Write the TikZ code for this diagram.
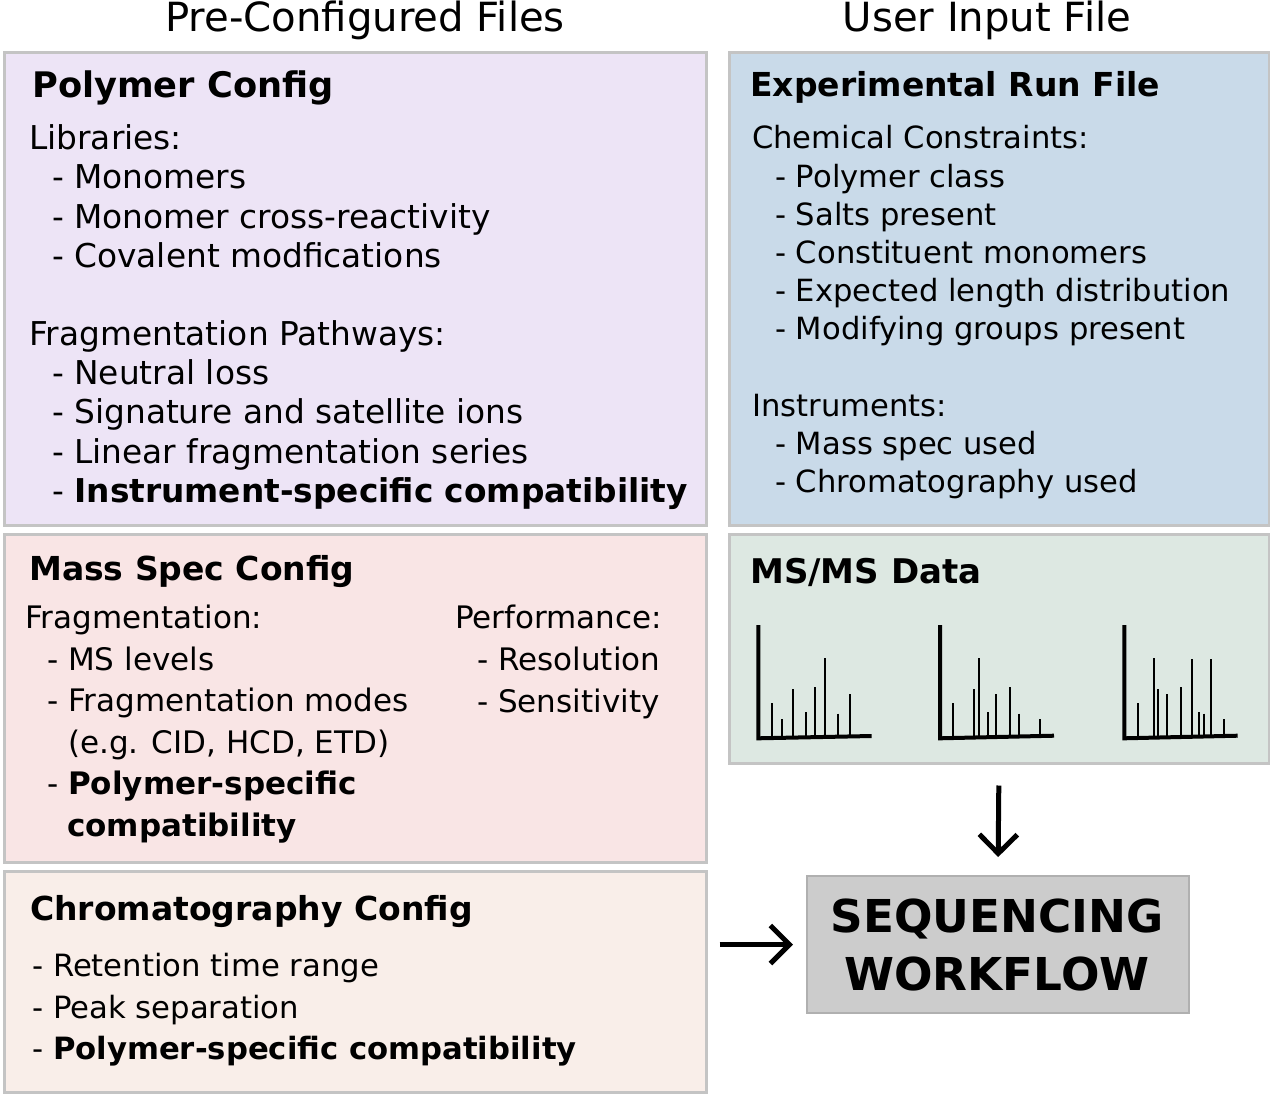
\documentclass[tikz,border=0pt]{standalone}
\usepackage{fontspec}
\setmainfont{DejaVu Sans}
\usetikzlibrary{arrows.meta}
\definecolor{polyc}{HTML}{EDE4F6}
\definecolor{expc}{HTML}{C9DAE9}
\definecolor{massc}{HTML}{F9E5E5}
\definecolor{msmsc}{HTML}{DDE8E2}
\definecolor{chromc}{HTML}{F9EEE9}
\definecolor{seqc}{HTML}{CCCCCC}
\definecolor{bordc}{HTML}{C4C4C4}
\definecolor{seqbord}{HTML}{B0B0B0}
\begin{document}
\begin{tikzpicture}[x=1pt,y=-1pt,
  panel/.style={draw=bordc, line width=3pt, inner sep=0pt, anchor=north west, rectangle},
  txt/.style={anchor=base west, inner sep=0pt, font=\fontsize{31}{37}\selectfont},
  ptxt/.style={anchor=base west, inner sep=0pt, font=\fontsize{32.8}{39}\selectfont},
  etxt/.style={anchor=base west, inner sep=0pt, font=\fontsize{30.6}{37}\selectfont},
  ctxt/.style={anchor=base west, inner sep=0pt, font=\fontsize{30.7}{37}\selectfont},
  ttl/.style={anchor=base west, inner sep=0pt, font=\fontsize{#1}{38}\selectfont\bfseries},
  hdr/.style={anchor=base, inner sep=0pt, font=\fontsize{40.2}{46}\selectfont},
  arr/.style={line width=5pt, -{Straight Barb[length=19pt,width=38pt,line width=5pt]}},
  ax/.style={line width=4pt, line join=miter},
  pk/.style={line width=2.2pt}]
\useasboundingbox (0,0) rectangle (1270,1101);
\fill[white] (0,0) rectangle (1270,1101);

% headings
\node[hdr] (h1) at (365,31) {Pre-Configured Files};
\node[hdr] (h2) at (987,31) {User Input File};

% panels
\node[panel, fill=polyc, minimum width=702pt, minimum height=473pt] (poly) at (2.5,50.5) {};
\node[panel, fill=expc, minimum width=540pt, minimum height=473pt] (exp) at (727.5,50.5) {};
\node[panel, fill=massc, minimum width=702pt, minimum height=328pt] (mass) at (2.5,532.5) {};
\node[panel, fill=msmsc, minimum width=540pt, minimum height=229pt] (msms) at (727.5,532.5) {};
\node[panel, fill=chromc, minimum width=702pt, minimum height=221pt] (chrom) at (2.5,869.5) {};
\node[draw=seqbord, line width=2pt, fill=seqc, inner sep=0pt, anchor=north west,
      minimum width=382pt, minimum height=137pt] (seq) at (806,875) {};

% Polymer Config
\node[ttl=35.2] (p0) at (32,97) {Polymer Config};
\node[ptxt] (p1) at (29,149) {Libraries:};
\node[ptxt] (p2) at (52,188) {- Monomers};
\node[ptxt] (p3) at (52,228) {- Monomer cross-reactivity};
\node[ptxt] (p4) at (52,267) {- Covalent modfications};
\node[ptxt] (p5) at (29,345) {Fragmentation Pathways:};
\node[ptxt] (p6) at (52,384) {- Neutral loss};
\node[ptxt] (p7) at (52,423) {- Signature and satellite ions};
\node[ptxt] (p8) at (52,463) {- Linear fragmentation series};
\node[ptxt] (p9) at (52,502) {- \textbf{Instrument-specific compatibility}};

% Experimental Run File
\node[ttl=33] (e0) at (750,96) {Experimental Run File};
\node[etxt] (e1) at (752,148) {Chemical Constraints:};
\node[etxt] (e2) at (775,187) {- Polymer class};
\node[etxt] (e3) at (775,225) {- Salts present};
\node[etxt] (e4) at (775,263) {- Constituent monomers};
\node[etxt] (e5) at (775,301) {- Expected length distribution};
\node[etxt] (e6) at (775,339) {- Modifying groups present};
\node[etxt] (e7) at (752,416) {Instruments:};
\node[etxt] (e8) at (775,454) {- Mass spec used};
\node[etxt] (e9) at (775,492) {- Chromatography used};

% Mass Spec Config
\node[ttl=33] (m0) at (29,580) {Mass Spec Config};
\node[txt] (m1) at (25,628) {Fragmentation:};
\node[txt] (m2) at (47,670) {- MS levels};
\node[txt] (m3) at (47,711) {- Fragmentation modes};
\node[txt] (m4) at (68,753) {(e.g. CID, HCD, ETD)};
\node[txt] (m5) at (47,794) {- \textbf{Polymer-specific}};
\node[txt] (m6) at (67,836) {\textbf{compatibility}};
\node[txt] (m7) at (455,628) {Performance:};
\node[txt] (m8) at (477,670) {- Resolution};
\node[txt] (m9) at (477,712) {- Sensitivity};

% MS/MS Data
\node[ttl=34] (d0) at (750,583) {MS/MS Data};

% spectra
\draw[ax] (758.3,625) -- (758.3,738.3) -- (871.7,736);
\foreach \px/\py in {772/703.3, 781.7/719, 792.7/689.3, 806/712, 815.3/687, 824.7/658.3, 838/713.7, 850.3/694.3}
  \draw[pk] (\px,\py) -- (\px,737.5);
\draw[ax] (940,625) -- (940,738.3) -- (1054,735.7);
\foreach \px/\py in {953.3/703.3, 974/689.3, 979.3/658.3, 988/712, 996/694.3, 1010.3/687, 1019.3/713.7, 1040/719}
  \draw[pk] (\px,\py) -- (\px,737);
\draw[ax] (1124.3,625) -- (1124.3,738.3) -- (1237.7,735.7);
\foreach \px/\py in {1137.7/703.3, 1154.3/658.3, 1158.3/689.3, 1166.7/694.3, 1181/687, 1191.7/659.3, 1199/712, 1203.7/713.7, 1211/659, 1224/719}
  \draw[pk] (\px,\py) -- (\px,737);

% Chromatography Config
\node[ttl=33] (c0) at (30,920) {Chromatography Config};
\node[ctxt] (c1) at (32,976) {- Retention time range};
\node[ctxt] (c2) at (32,1018) {- Peak separation};
\node[ctxt] (c3) at (32,1059) {- \textbf{Polymer-specific compatibility}};

% Sequencing workflow text
\node[anchor=base, inner sep=0pt, font=\fontsize{45.3}{52}\selectfont\bfseries] (s1) at (997,932) {SEQUENCING};
\node[anchor=base, inner sep=0pt, font=\fontsize{45.3}{52}\selectfont\bfseries] (s2) at (997,990) {WORKFLOW};

% arrows
\draw[arr, shorten <=21pt, shorten >=18pt] (msms.south) -- (seq.north);
\draw[arr, shorten <=12pt, shorten >=13pt] (chrom.east |- seq.west) -- (seq.west);
\end{tikzpicture}
\end{document}
